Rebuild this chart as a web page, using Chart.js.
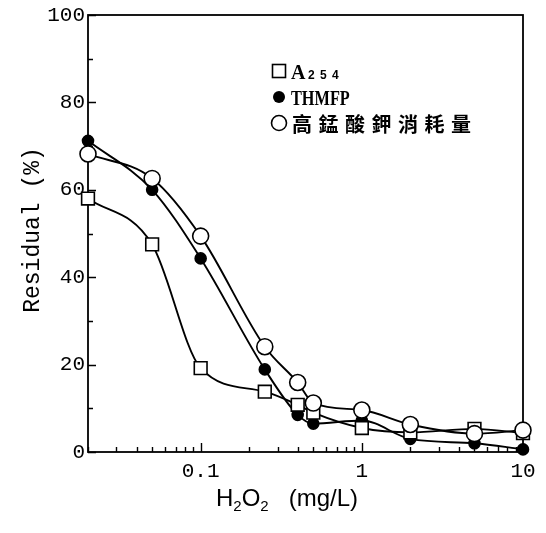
<!DOCTYPE html>
<html>
<head>
<meta charset="utf-8">
<script src="https://cdn.jsdelivr.net/npm/chart.js@4/dist/chart.umd.min.js"></script>
<style>
  html, body { margin: 0; padding: 0; background: #fff; }
  #wrap { width: 546px; height: 533px; }
</style>
</head>
<body>
<div id="wrap"><canvas id="c" width="546" height="533"></canvas></div>
<script>
// H2O2 dose (mg/L) and residual fraction (%) of each parameter
const doses = [0.02, 0.05, 0.1, 0.25, 0.4, 0.5, 1, 2, 5, 10];
const a254  = [58.0, 47.5, 19.2, 13.8, 10.8, 9.0, 5.5, 4.5, 5.3, 4.3];
const thmfp = [71.2, 60.0, 44.3, 18.9, 8.5, 6.5, 7.2, 3.0, 2.0, 0.6];
const kmno4 = [68.2, 62.6, 49.4, 24.1, 15.9, 11.2, 9.6, 6.3, 4.2, 5.0];

const xTickValues = [0.1, 1, 10];
const xTickLabels = ['0.1', '1', '10'];
const yTickValues = [0, 20, 40, 60, 80, 100];
const seriesNames = ['A254', 'THMFP', '高錳酸鉀消耗量'];

const pts = arr => doses.map((d, i) => ({ x: d, y: arr[i] }));

const MONO = '"Liberation Mono", "DejaVu Sans Mono", monospace';

// frame, inward ticks, tick labels, axis titles and the legend box
const decor = {
  id: 'decor',
  beforeDatasetsDraw(chart) {
    const { ctx, chartArea: a, scales: { x, y } } = chart;
    ctx.save();
    ctx.strokeStyle = '#000';
    ctx.lineWidth = 1.8;
    ctx.strokeRect(a.left, a.top, a.right - a.left, a.bottom - a.top);

    ctx.lineWidth = 1.4;
    ctx.beginPath();
    // x: log ticks pointing up into the plot
    for (let e = -2; e <= 1; e++) {
      for (let k = 1; k <= 9; k++) {
        const v = k * Math.pow(10, e);
        if (v < x.min - 1e-9 || v > x.max + 1e-9) continue;
        const px = Math.round(x.getPixelForValue(v)) + 0.5;
        const len = k === 1 ? 9 : 5;
        ctx.moveTo(px, a.bottom);
        ctx.lineTo(px, a.bottom - len);
      }
    }
    // y: major every 20, minor every 10, pointing right
    for (let v = 0; v <= 100; v += 10) {
      const py = Math.round(y.getPixelForValue(v)) + 0.5;
      const len = v % 20 === 0 ? 8 : 5;
      ctx.moveTo(a.left, py);
      ctx.lineTo(a.left + len, py);
    }
    ctx.stroke();

    // tick labels
    ctx.fillStyle = '#000';
    ctx.font = '21px ' + MONO;
    ctx.textAlign = 'right';
    ctx.textBaseline = 'middle';
    yTickValues.forEach(v => ctx.fillText(String(v), a.left - 3, y.getPixelForValue(v)));
    ctx.textAlign = 'center';
    ctx.textBaseline = 'top';
    xTickValues.forEach((v, i) => ctx.fillText(xTickLabels[i], x.getPixelForValue(v), a.bottom + 9));

    // y title
    ctx.save();
    ctx.translate(33, 230);
    ctx.rotate(-Math.PI / 2);
    ctx.font = '23px ' + MONO;
    ctx.textAlign = 'center';
    ctx.textBaseline = 'middle';
    ctx.fillText('Residual (%)', 0, 0);
    ctx.restore();

    // x title: H2O2 (mg/L) with subscripts
    const parts = [
      ['H', 24, 0], ['2', 15, 5], ['O', 24, 0], ['2', 15, 5], ['   (mg/L)', 24, 0]
    ];
    ctx.textAlign = 'left';
    ctx.textBaseline = 'alphabetic';
    let total = 0;
    parts.forEach(p => { ctx.font = p[1] + 'px "Liberation Sans", Arial, sans-serif'; total += ctx.measureText(p[0]).width; });
    let cx = 287 - total / 2;
    const base = 506;
    parts.forEach(p => {
      ctx.font = p[1] + 'px "Liberation Sans", Arial, sans-serif';
      ctx.fillText(p[0], cx, base + p[2]);
      cx += ctx.measureText(p[0]).width;
    });
    ctx.restore();
  },
  afterDraw(chart) {
    const { ctx } = chart;
    ctx.save();
    ctx.fillStyle = '#000';
    ctx.strokeStyle = '#000';
    ctx.lineWidth = 1.6;
    const mx = 279;
    const rows = [71, 97, 123];

    // row 1: open square, A with small 254
    ctx.fillStyle = '#fff';
    ctx.fillRect(mx - 6.5, rows[0] - 6.5, 13, 13);
    ctx.strokeRect(mx - 6.5, rows[0] - 6.5, 13, 13);
    ctx.fillStyle = '#000';
    ctx.textBaseline = 'alphabetic';
    ctx.textAlign = 'left';
    ctx.font = 'bold 20px "Liberation Serif", serif';
    ctx.fillText(seriesNames[0][0], 291, rows[0] + 8);
    ctx.font = 'bold 12px "Liberation Sans", sans-serif';
    const sub = seriesNames[0].slice(1).split('');
    sub.forEach((ch, i) => ctx.fillText(ch, 308 + i * 12, rows[0] + 8));

    // row 2: filled dot, THMFP
    ctx.beginPath();
    ctx.arc(mx, rows[1], 6, 0, Math.PI * 2);
    ctx.fill();
    ctx.save();
    ctx.translate(291, rows[1] + 8);
    ctx.scale(0.74, 1);
    ctx.font = 'bold 22px "Liberation Serif", serif';
    ctx.fillText(seriesNames[1], 0, 0);
    ctx.restore();

    // row 3: open circle, Chinese label with wide spacing
    ctx.beginPath();
    ctx.arc(mx, rows[2], 7.5, 0, Math.PI * 2);
    ctx.fillStyle = '#fff';
    ctx.fill();
    ctx.stroke();
    ctx.fillStyle = '#000';
    ctx.font = 'bold 20px "Noto Sans CJK TC", "Noto Sans CJK SC", sans-serif';
    ctx.textBaseline = 'middle';
    seriesNames[2].split('').forEach((ch, i) => ctx.fillText(ch, 292 + i * 26.5, rows[2] + 1));
    ctx.restore();
  }
};

const common = {
  borderColor: '#000',
  borderWidth: 1.9,
  cubicInterpolationMode: 'monotone',
  pointBorderColor: '#000',
  pointBorderWidth: 1.6,
  clip: false
};

new Chart(document.getElementById('c'), {
  type: 'line',
  data: {
    datasets: [
      Object.assign({}, common, {
        label: seriesNames[2], data: pts(kmno4), order: 1,
        pointStyle: 'circle', pointRadius: 8, pointBackgroundColor: '#fff'
      }),
      Object.assign({}, common, {
        label: seriesNames[0], data: pts(a254), order: 2,
        pointStyle: 'rect', pointRadius: 9, pointBackgroundColor: '#fff'
      }),
      Object.assign({}, common, {
        label: seriesNames[1], data: pts(thmfp), order: 3,
        pointStyle: 'circle', pointRadius: 5.5, pointBackgroundColor: '#000'
      })
    ]
  },
  options: {
    responsive: false,
    devicePixelRatio: 1,
    animation: false,
    layout: { padding: { top: 15, right: 23, left: 0, bottom: 0 } },
    plugins: { legend: { display: false }, tooltip: { enabled: false } },
    scales: {
      x: {
        type: 'logarithmic',
        min: 0.02, max: 10,
        grid: { display: false },
        border: { display: false },
        ticks: { display: false },
        afterFit(s) { s.height = 81; }
      },
      y: {
        type: 'linear',
        min: 0, max: 100,
        grid: { display: false },
        border: { display: false },
        ticks: { display: false },
        afterFit(s) { s.width = 88; }
      }
    }
  },
  plugins: [decor]
});
</script>
</body>
</html>
